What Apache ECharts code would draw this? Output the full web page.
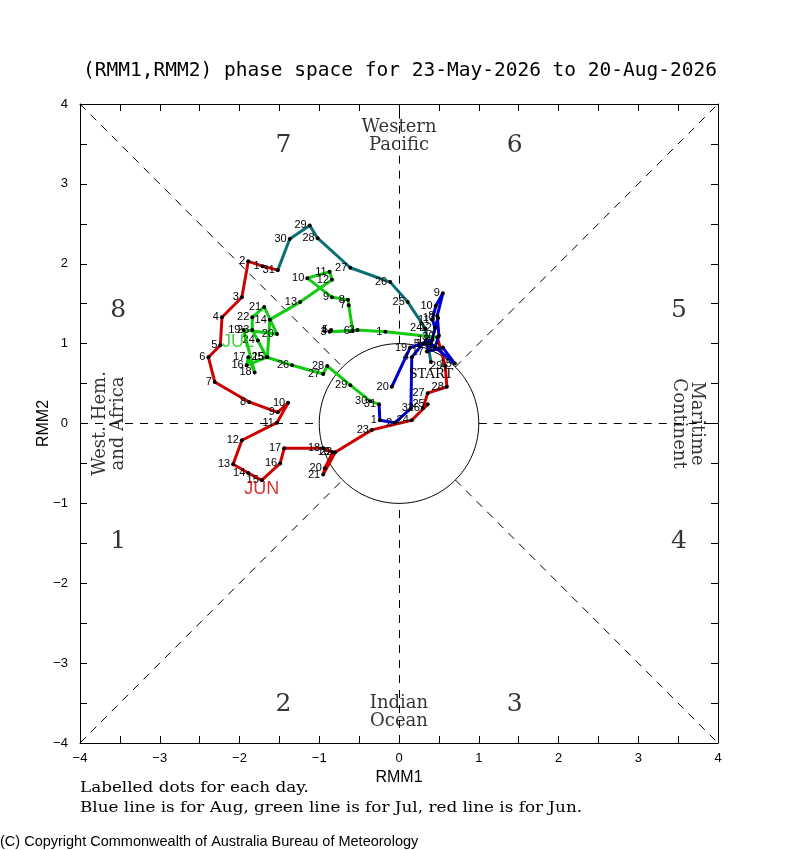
<!DOCTYPE html>
<html><head><meta charset="utf-8">
<script src="https://cdn.jsdelivr.net/npm/echarts@6/dist/echarts.min.js"></script>
<style>html,body{margin:0;padding:0;background:#fff}#c{width:800px;height:850px}</style>
</head><body><div id="c"></div>
<script>
// ---- data (RMM1, RMM2 per day) ----
const mayDays = [23,24,25,26,27,28,29,30,31];
const mayRMM1 = [0.40,0.33,0.11,-0.11,-0.61,-1.02,-1.12,-1.37,-1.52];
const mayRMM2 = [0.77,1.19,1.52,1.77,1.95,2.32,2.48,2.31,1.92];

const junDays = [1,2,3,4,5,6,7,8,9,10,11,12,13,14,15,16,17,18,19,20,21,22,23,24,25,26,27,28,29,30];
const junRMM1 = [-1.71,-1.89,-1.97,-2.22,-2.24,-2.39,-2.31,-1.88,-1.52,-1.39,-1.53,-1.97,-2.08,-1.89,-1.72,-1.49,-1.44,-0.95,-0.83,-0.93,-0.95,-0.80,-0.34,0.16,0.36,0.30,0.36,0.60,0.58,0.48];
const junRMM2 = [1.97,2.03,1.58,1.33,0.98,0.83,0.52,0.27,0.14,0.26,0.01,-0.21,-0.51,-0.62,-0.71,-0.50,-0.31,-0.31,-0.36,-0.56,-0.64,-0.36,-0.08,0.04,0.24,0.19,0.38,0.46,0.72,1.08];

const julDays = [1,2,3,4,5,6,7,8,9,10,11,12,13,14,15,16,17,18,19,20,21,22,23,24,25,26,27,28,29,30,31];
const julRMM1 = [-0.17,-0.52,-0.87,-0.86,-0.85,-0.58,-0.63,-0.64,-0.84,-1.15,-0.87,-0.84,-1.24,-1.62,-1.65,-1.91,-1.89,-1.81,-1.95,-1.53,-1.69,-1.84,-1.84,-1.77,-1.66,-1.34,-0.95,-0.90,-0.61,-0.36,-0.25];
const julRMM2 = [1.15,1.17,1.15,1.16,1.17,1.16,1.48,1.55,1.58,1.82,1.90,1.80,1.52,1.30,0.83,0.73,0.83,0.64,1.17,1.12,1.46,1.33,1.17,1.04,0.83,0.73,0.62,0.72,0.48,0.28,0.24];

const augDays = [1,2,3,4,5,6,7,8,9,10,11,12,13,14,15,16,17,18,19,20];
const augRMM1 = [-0.24,-0.05,0.15,0.16,0.30,0.45,0.50,0.48,0.55,0.46,0.42,0.45,0.49,0.40,0.70,0.55,0.35,0.42,0.14,-0.09];
const augRMM2 = [0.04,0.01,0.19,0.83,1.00,0.95,1.10,1.35,1.63,1.47,1.30,1.20,1.32,1.00,0.75,0.95,0.90,1.05,0.95,0.46];

const axisTicks = [-4,-3,-2,-1,0,1,2,3,4];
const phaseNames = ['1','2','3','4','5','6','7','8'];
const regionNames = ['Western\nPacific','Indian\nOcean','West. Hem.\nand Africa','Maritime\nContinent'];
const monthNames = ['JUN','JUL'];

// ---- build ----
const COL = {may:'#0b6f74', jun:'#cc0000', jul:'#11cc11', aug:'#0000cc'};
function monthData(days, xs, ys, prev, firstLabel){
  const out = [];
  if (prev) out.push({value: prev, symbol:'none', label:{show:false}});
  days.forEach((d,i)=>{
    const it = {value:[xs[i], ys[i]], name:String(d)};
    if (i===0 && firstLabel){ it.label = {formatter:firstLabel, position:'bottom', distance:4, fontFamily:'DejaVu Serif', fontSize:13}; }
    out.push(it);
  });
  return out;
}
const last = (xs,ys)=>[xs[xs.length-1], ys[ys.length-1]];
function lineSeries(name, data, color){
  return {
    name, type:'line', data, z:5, symbol:'circle', symbolSize:4, showAllSymbol:true,
    itemStyle:{color:'#000'}, lineStyle:{color, width:3}, animation:false,
    label:{show:true, position:'left', distance:1, formatter:p=>p.name, fontSize:11, fontFamily:'Liberation Sans', color:'#000'},
    labelLayout:{hideOverlap:false}
  };
}
const circle = [];
for (let a=0; a<=360; a+=2){ circle.push([Math.cos(a*Math.PI/180), Math.sin(a*Math.PI/180)]); }
const r = Math.SQRT1_2;
const dash = [
  [[-4,-4],[-r,-r]],[[r,r],[4,4]],[[-4,4],[-r,r]],[[r,-r],[4,-4]],
  [[-4,0],[-1,0]],[[1,0],[4,0]],[[0,-4],[0,-1]],[[0,1],[0,4]]
].map(s=>[{coord:s[0]},{coord:s[1]}]);

const serif = 'DejaVu Serif';
const phasePos = [[-3.52,-1.48],[-1.45,-3.52],[1.45,-3.52],[3.51,-1.48],[3.51,1.42],[1.45,3.48],[-1.45,3.48],[-3.52,1.42]];
const annot = phaseNames.map((n,i)=>({value:phasePos[i], name:n, label:{fontSize:25}}));
annot.push({value:[0,3.6], name:regionNames[0], label:{fontSize:18, lineHeight:18}});
annot.push({value:[0,-3.62], name:regionNames[1], label:{fontSize:18, lineHeight:18}});
annot.push({value:[-3.63,0], name:regionNames[2], label:{fontSize:18, lineHeight:18, rotate:90}});
annot.push({value:[3.62,0], name:regionNames[3], label:{fontSize:18, lineHeight:18, rotate:-90}});
const monthAnnot = [
  {value:[-1.72,-0.82], name:monthNames[0], label:{color:COL.jun}},
  {value:[-2.02,1.02], name:monthNames[1], label:{color:COL.jul}}
];

const chart = echarts.init(document.getElementById('c'), null, {renderer:'canvas'});
const baseAxis = {type:'value', min:-4, max:4, interval:1,
  axisLine:{show:true, onZero:false, lineStyle:{color:'#000', width:1}},
  axisTick:{show:true, inside:true, length:7, lineStyle:{color:'#000'}},
  minorTick:{show:true, splitNumber:2, length:7, lineStyle:{color:'#000'}},
  splitLine:{show:false}};
const tickFmt = v=>axisTicks.indexOf(v)>=0 ? String(v).replace('-','\u2212') : '';
chart.setOption({
  animation:false,
  backgroundColor:'#fff',
  title:{text:'(RMM1,RMM2) phase space for 23-May-2026 to 20-Aug-2026', left:'center', top:56,
    textStyle:{fontFamily:'DejaVu Sans Mono', fontSize:19.5, fontWeight:'normal', color:'#000'}},
  grid:{left:80, top:104, right:82, bottom:107, containLabel:false},
  xAxis:[
    Object.assign({}, baseAxis, {position:'bottom', name:'RMM1', nameLocation:'middle', nameGap:27,
      nameTextStyle:{fontFamily:'Liberation Sans', fontSize:16, color:'#000'},
      axisLabel:{show:true, margin:9, fontFamily:'Liberation Sans', fontSize:13, color:'#000', formatter:tickFmt}}),
    Object.assign({}, baseAxis, {position:'top', axisLabel:{show:false}})
  ],
  yAxis:[
    Object.assign({}, baseAxis, {position:'left', name:'RMM2', nameLocation:'middle', nameGap:28, nameRotate:90,
      nameMoveOverlap:false,
      nameTextStyle:{fontFamily:'Liberation Sans', fontSize:16, color:'#000'},
      axisLabel:{show:true, margin:12, fontFamily:'Liberation Sans', fontSize:13, color:'#000', formatter:tickFmt}}),
    Object.assign({}, baseAxis, {position:'right', axisLabel:{show:false}})
  ],
  graphic:[
    {type:'text', x:80, y:781, scaleX:1.2, style:{text:'Labelled dots for each day.', font:'14px "DejaVu Serif"', fill:'#000'}},
    {type:'text', x:80, y:801, scaleX:1.2, style:{text:'Blue line is for Aug, green line is for Jul, red line is for Jun.', font:'14px "DejaVu Serif"', fill:'#000'}},
    {type:'text', x:0, y:834, style:{text:'(C) Copyright Commonwealth of Australia Bureau of Meteorology', font:'14.5px "Liberation Sans"', fill:'#000'}}
  ],
  series:[
    {type:'line', data:circle, showSymbol:false, symbol:'none', lineStyle:{color:'#000', width:1}, z:2, silent:true,
      markLine:{silent:true, symbol:['none','none'], label:{show:false}, animation:false,
        lineStyle:{color:'#000', width:1, type:[8,7]}, data:dash}},
    {type:'scatter', data:annot, symbolSize:0, z:3, silent:true,
      label:{show:true, position:'inside', formatter:p=>p.name, fontFamily:serif, color:'#000', align:'center', verticalAlign:'middle'}},
    lineSeries('May', monthData(mayDays, mayRMM1, mayRMM2, null, 'START'), COL.may),
    lineSeries('Jun', monthData(junDays, junRMM1, junRMM2, last(mayRMM1, mayRMM2)), COL.jun),
    lineSeries('Jul', monthData(julDays, julRMM1, julRMM2, last(junRMM1, junRMM2)), COL.jul),
    lineSeries('Aug', monthData(augDays, augRMM1, augRMM2, last(julRMM1, julRMM2)), COL.aug),
    {type:'scatter', data:monthAnnot, symbolSize:0, z:6, silent:true,
      label:{show:true, position:'inside', formatter:p=>p.name, fontFamily:'Liberation Sans', fontSize:18, align:'center', verticalAlign:'middle'}}
  ]
});
</script></body></html>
